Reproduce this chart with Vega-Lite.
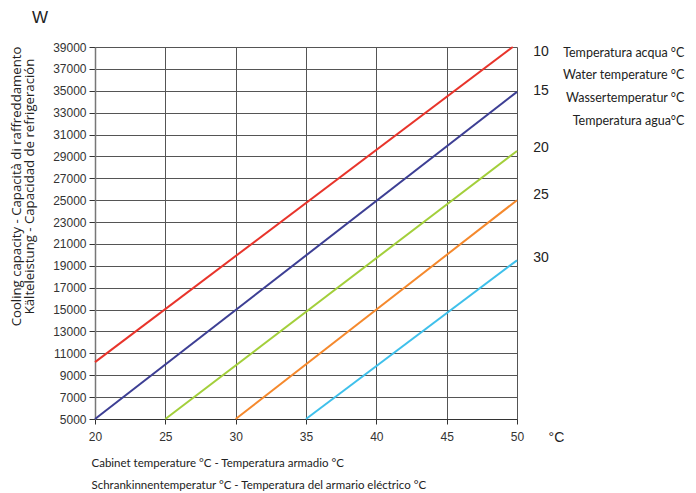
{
  "$schema": "https://vega.github.io/schema/vega-lite/v6.json",
  "width": 422,
  "height": 372,
  "autosize": {"type": "none"},
  "padding": {"left": 95, "top": 47, "right": 179, "bottom": 74},
  "background": "white",
  "config": {"view": {"stroke": null}},
  "datasets": {
    "lines": [
      {"water": "10", "t": 20, "w": 10200},
      {"water": "10", "t": 49.7, "w": 39000},
      {"water": "15", "t": 20, "w": 5000},
      {"water": "15", "t": 50, "w": 34900},
      {"water": "20", "t": 25, "w": 5000},
      {"water": "20", "t": 50, "w": 29500},
      {"water": "25", "t": 30, "w": 5000},
      {"water": "25", "t": 50, "w": 25000},
      {"water": "30", "t": 35, "w": 5000},
      {"water": "30", "t": 50, "w": 19500}
    ],
    "nums": [
      {"label": "10", "t": 51.7, "w": 38550},
      {"label": "15", "t": 51.7, "w": 34980},
      {"label": "20", "t": 51.7, "w": 29770},
      {"label": "25", "t": 51.7, "w": 25470},
      {"label": "30", "t": 51.7, "w": 19720}
    ],
    "legendText": [
      {"label": "Temperatura acqua °C", "t": 61.9, "w": 38480},
      {"label": "Water temperature °C", "t": 61.9, "w": 36440},
      {"label": "Wassertemperatur °C", "t": 61.9, "w": 34310},
      {"label": "Temperatura agua°C", "t": 61.9, "w": 32260}
    ],
    "unitW": [{"label": "W", "t": 16.1, "w": 41650}],
    "unitC": [{"label": "°C", "t": 52.8, "w": 3260}]
  },
  "layer": [
    {
      "data": {"name": "lines"},
      "mark": {"type": "line", "strokeWidth": 2},
      "encoding": {
        "x": {
          "field": "t", "type": "quantitative",
          "scale": {"domain": [20, 50], "nice": false, "zero": false},
          "axis": {
            "values": [20, 25, 30, 35, 40, 45, 50], "tickCount": 20,
            "format": "d", "labelFlush": false, "labelOverlap": false,
            "grid": true, "gridColor": "#555", "gridWidth": 1,
            "domainColor": "#333", "tickColor": "#333", "tickSize": 5,
            "labelFont": "Liberation Sans", "labelFontSize": 12, "labelColor": "#333", "labelPadding": 7,
            "title": ["Cabinet temperature °C - Temperatura armadio °C", "Schrankinnentemperatur °C - Temperatura del armario eléctrico °C"],
            "titleFont": "Lato", "titleFontSize": 11.5, "titleFontWeight": "normal", "titleColor": "#222",
            "titleAnchor": null, "titleAlign": "left", "titleBaseline": "alphabetic",
            "titleX": -4, "titleY": 47, "titleLineHeight": 22
          }
        },
        "y": {
          "field": "w", "type": "quantitative",
          "scale": {"domain": [5000, 39000], "nice": false, "zero": false},
          "axis": {
            "values": [5000, 7000, 9000, 11000, 13000, 15000, 17000, 19000, 21000, 23000, 25000, 27000, 29000, 31000, 33000, 35000, 37000, 39000],
            "tickCount": 40,
            "format": "d", "labelFlush": false, "labelOverlap": false,
            "grid": true, "gridColor": "#555", "gridWidth": 1,
            "domainColor": "#777", "domainWidth": 1.5, "tickColor": "#333", "tickSize": 6,
            "labelFont": "Liberation Sans", "labelFontSize": 12, "labelColor": "#333", "labelPadding": 3,
            "title": ["Cooling capacity - Capacità di raffreddamento", "Kälteleistung - Capacidad de refrigeración"],
            "titleFont": "Open Sans", "titleFontSize": 13.2, "titleFontWeight": "normal", "titleColor": "#222",
            "titleAnchor": null, "titleAlign": "center", "titleBaseline": "top", "titleAngle": 270,
            "titleX": -85, "titleY": 139, "titleLineHeight": 13.5
          }
        },
        "color": {
          "field": "water", "type": "nominal",
          "scale": {"domain": ["10", "15", "20", "25", "30"], "range": ["#e8342b", "#3d3f94", "#a3cf3b", "#f5892d", "#3fc0eb"]},
          "legend": null
        }
      }
    },
    {
      "data": {"name": "nums"},
      "mark": {"type": "text", "font": "Liberation Sans", "fontSize": 14, "color": "#222", "align": "center", "baseline": "middle"},
      "encoding": {
        "x": {"field": "t", "type": "quantitative", "scale": {"domain": [20, 50], "nice": false, "zero": false}},
        "y": {"field": "w", "type": "quantitative", "scale": {"domain": [5000, 39000], "nice": false, "zero": false}},
        "text": {"field": "label"}
      }
    },
    {
      "data": {"name": "legendText"},
      "mark": {"type": "text", "font": "Lato", "fontSize": 12.5, "color": "#222", "align": "right", "baseline": "middle"},
      "encoding": {
        "x": {"field": "t", "type": "quantitative", "scale": {"domain": [20, 50], "nice": false, "zero": false}},
        "y": {"field": "w", "type": "quantitative", "scale": {"domain": [5000, 39000], "nice": false, "zero": false}},
        "text": {"field": "label"}
      }
    },
    {
      "data": {"name": "unitW"},
      "mark": {"type": "text", "font": "Liberation Sans", "fontSize": 17, "color": "#222", "align": "center", "baseline": "middle"},
      "encoding": {
        "x": {"field": "t", "type": "quantitative", "scale": {"domain": [20, 50], "nice": false, "zero": false}},
        "y": {"field": "w", "type": "quantitative", "scale": {"domain": [5000, 39000], "nice": false, "zero": false}},
        "text": {"field": "label"}
      }
    },
    {
      "data": {"name": "unitC"},
      "mark": {"type": "text", "font": "Liberation Sans", "fontSize": 14, "color": "#222", "align": "center", "baseline": "middle"},
      "encoding": {
        "x": {"field": "t", "type": "quantitative", "scale": {"domain": [20, 50], "nice": false, "zero": false}},
        "y": {"field": "w", "type": "quantitative", "scale": {"domain": [5000, 39000], "nice": false, "zero": false}},
        "text": {"field": "label"}
      }
    }
  ]
}
